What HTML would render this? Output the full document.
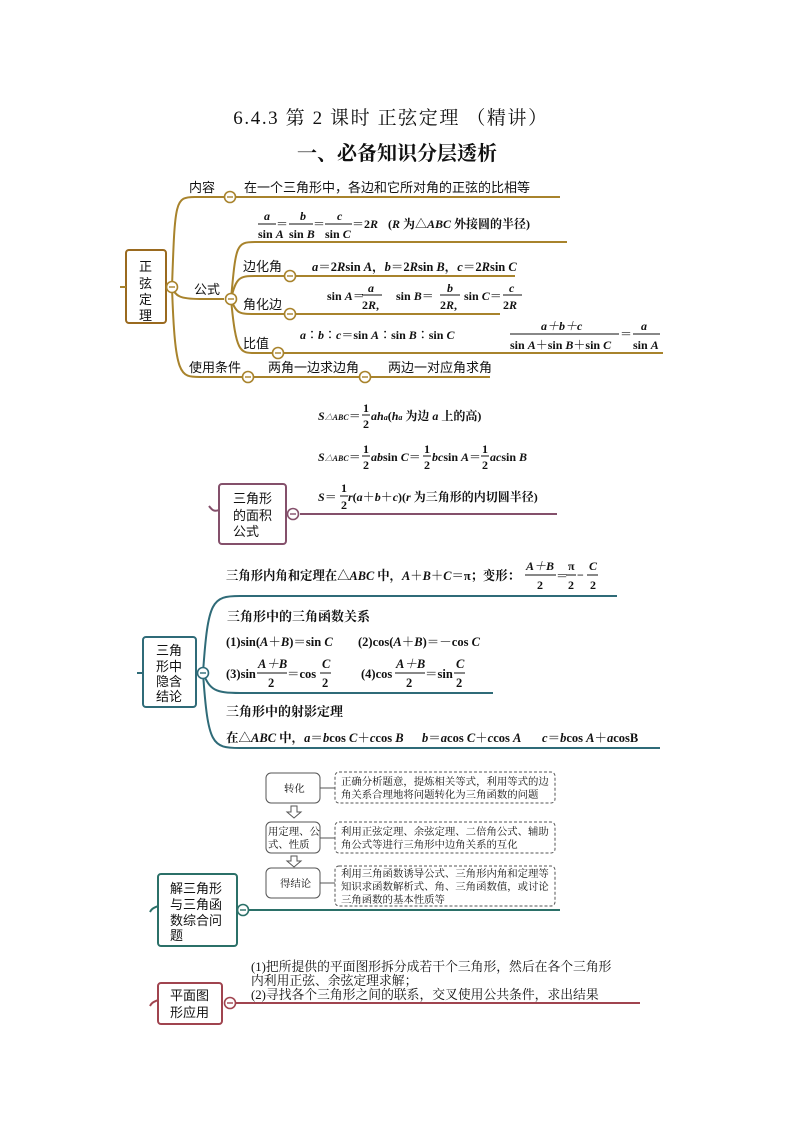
<!DOCTYPE html>
<html><head><meta charset="utf-8"><style>
html,body{margin:0;padding:0;background:#fff}
svg{display:block}
text{font-family:"Liberation Serif","Noto Serif CJK SC",serif;fill:#111}
.s{font-family:"Liberation Sans","Noto Sans CJK SC",sans-serif}
.i{font-style:italic}
</style></head><body>
<svg width="794" height="1123" viewBox="0 0 794 1123" xmlns="http://www.w3.org/2000/svg">
<text x="391" y="124" font-size="19" letter-spacing="1.6" text-anchor="middle">6.4.3 第 2 课时  正弦定理 （精讲）</text>
<text x="397" y="160" font-size="20" font-weight="bold" text-anchor="middle">一、必备知识分层透析</text>

<!-- Section 1 -->
<g stroke="#a8832c" stroke-width="2" fill="none">
<rect x="126" y="250" width="40" height="73" rx="3" stroke="#9a6a1f"/>
<path d="M172 287 C175 200,175 197,195 197 L560 197"/>
<path d="M172 287 C175 296,180 299,200 299 L224 299"/>
<path d="M172 287 C175 377,180 377,200 377 L490 377"/>
<path d="M231 299 C236 245,236 242,255 242 L567 242"/>
<path d="M231 299 C236 277,240 276,255 276 L515 276"/>
<path d="M231 299 C236 314,240 314,255 314 L500 314"/>
<path d="M231 299 C236 353,240 353,255 353 L663 353"/>
<path d="M120 287 L126 287"/>
</g>
<g stroke="#a8832c" stroke-width="1.6" fill="#fff">
<circle cx="172" cy="287" r="5.5"/><circle cx="230" cy="197" r="5.5"/><circle cx="231" cy="299" r="5.5"/>
<circle cx="290" cy="276" r="5.5"/><circle cx="290" cy="314" r="5.5"/><circle cx="278" cy="353" r="5.5"/>
<circle cx="248" cy="377" r="5.5"/><circle cx="365" cy="377" r="5.5"/>
</g>
<g stroke="#a8832c" stroke-width="1.4">
<line x1="169" y1="287" x2="175" y2="287"/><line x1="227" y1="197" x2="233" y2="197"/><line x1="228" y1="299" x2="234" y2="299"/>
<line x1="287" y1="276" x2="293" y2="276"/><line x1="287" y1="314" x2="293" y2="314"/><line x1="275" y1="353" x2="281" y2="353"/>
<line x1="245" y1="377" x2="251" y2="377"/><line x1="362" y1="377" x2="368" y2="377"/>
</g>
<g font-size="13">
<text x="139" y="271" class="s">正</text><text x="139" y="288" class="s">弦</text><text x="139" y="304" class="s">定</text><text x="139" y="320" class="s">理</text>
<text x="189" y="192" class="s">内容</text>
<text x="194" y="294" class="s">公式</text>
<text x="243" y="271" class="s">边化角</text>
<text x="243" y="309" class="s">角化边</text>
<text x="243" y="348" class="s">比值</text>
<text x="189" y="372" class="s">使用条件</text>
<text x="268" y="372" class="s">两角一边求边角</text>
<text x="388" y="372" class="s">两边一对应角求角</text>
<text x="244" y="192" class="s">在一个三角形中，各边和它所对角的正弦的比相等</text>
</g>
<g font-size="12" font-weight="bold">
<text x="264" y="220" class="i">a</text><line x1="258" y1="224" x2="276" y2="224" stroke="#111"/>
<text x="258" y="238">sin <tspan class="i">A</tspan></text>
<text x="276" y="228">＝</text>
<text x="300" y="220" class="i">b</text><line x1="289" y1="224" x2="313" y2="224" stroke="#111"/>
<text x="289" y="238">sin <tspan class="i">B</tspan></text>
<text x="313" y="228">＝</text>
<text x="337" y="220" class="i">c</text><line x1="325" y1="224" x2="352" y2="224" stroke="#111"/>
<text x="325" y="238">sin <tspan class="i">C</tspan></text>
<text x="352" y="228">＝2<tspan class="i">R</tspan></text>
<text x="388" y="228" font-size="12">(<tspan class="i">R</tspan> 为△<tspan class="i">ABC</tspan> 外接圆的半径)</text>
<text x="312" y="271" font-size="12.5"><tspan class="i">a</tspan>＝2<tspan class="i">R</tspan>sin <tspan class="i">A</tspan>，<tspan class="i">b</tspan>＝2<tspan class="i">R</tspan>sin <tspan class="i">B</tspan>，<tspan class="i">c</tspan>＝2<tspan class="i">R</tspan>sin <tspan class="i">C</tspan></text>
<text x="327" y="300">sin <tspan class="i">A</tspan>＝</text><text x="368" y="292" class="i">a</text>
<line x1="362" y1="295" x2="382" y2="295" stroke="#111"/><text x="362" y="309">2<tspan class="i">R</tspan>,</text>
<text x="396" y="300">sin <tspan class="i">B</tspan>＝</text><text x="447" y="292" class="i">b</text>
<line x1="440" y1="295" x2="460" y2="295" stroke="#111"/><text x="440" y="309">2<tspan class="i">R</tspan>,</text>
<text x="464" y="300">sin <tspan class="i">C</tspan>＝</text><text x="509" y="292" class="i">c</text>
<line x1="503" y1="295" x2="522" y2="295" stroke="#111"/><text x="503" y="309">2<tspan class="i">R</tspan></text>
<text x="300" y="339"><tspan class="i">a</tspan>∶<tspan class="i">b</tspan>∶<tspan class="i">c</tspan>＝sin <tspan class="i">A</tspan>∶sin <tspan class="i">B</tspan>∶sin <tspan class="i">C</tspan></text>
<text x="541" y="330" class="i">a＋b＋c</text>
<line x1="510" y1="334" x2="619" y2="334" stroke="#111"/>
<text x="510" y="349">sin <tspan class="i">A</tspan>＋sin <tspan class="i">B</tspan>＋sin <tspan class="i">C</tspan></text>
<text x="620" y="338">＝</text>
<text x="641" y="330" class="i">a</text><line x1="633" y1="334" x2="660" y2="334" stroke="#111"/>
<text x="633" y="349">sin <tspan class="i">A</tspan></text>
</g>

<!-- Section 2 -->
<g stroke="#84506b" stroke-width="2" fill="none">
<rect x="219" y="484" width="67" height="60" rx="3"/>
<path d="M300 514 L557 514"/>
<path d="M219 510 C214 512,212 510,209 506"/>
</g>
<circle cx="293" cy="514" r="5.5" fill="#fff" stroke="#84506b" stroke-width="1.6"/>
<line x1="290" y1="514" x2="296" y2="514" stroke="#84506b" stroke-width="1.4"/>
<g font-size="13"><text x="233" y="503" class="s">三角形</text><text x="233" y="520" class="s">的面积</text><text x="233" y="536" class="s">公式</text></g>
<g font-size="12" font-weight="bold">
<text x="318" y="420"><tspan class="i">S</tspan><tspan font-size="8" class="i">△ABC</tspan>＝</text>
<text x="363" y="412">1</text><line x1="362" y1="415" x2="370" y2="415" stroke="#111"/><text x="363" y="428">2</text>
<text x="371" y="420"><tspan class="i">ah</tspan><tspan font-size="8" class="i">a</tspan>(<tspan class="i">h</tspan><tspan font-size="8" class="i">a</tspan> 为边 <tspan class="i">a</tspan> 上的高)</text>
<text x="318" y="461"><tspan class="i">S</tspan><tspan font-size="8" class="i">△ABC</tspan>＝</text>
<text x="363" y="453">1</text><line x1="362" y1="456" x2="370" y2="456" stroke="#111"/><text x="363" y="469">2</text>
<text x="371" y="461"><tspan class="i">ab</tspan>sin <tspan class="i">C</tspan>＝</text>
<text x="424" y="453">1</text><line x1="423" y1="456" x2="431" y2="456" stroke="#111"/><text x="424" y="469">2</text>
<text x="432" y="461"><tspan class="i">bc</tspan>sin <tspan class="i">A</tspan>＝</text>
<text x="482" y="453">1</text><line x1="481" y1="456" x2="489" y2="456" stroke="#111"/><text x="482" y="469">2</text>
<text x="490" y="461"><tspan class="i">ac</tspan>sin <tspan class="i">B</tspan></text>
<text x="318" y="501"><tspan class="i">S</tspan>＝</text>
<text x="341" y="492">1</text><line x1="340" y1="496" x2="348" y2="496" stroke="#111"/><text x="341" y="509">2</text>
<text x="348" y="501"><tspan class="i">r</tspan>(<tspan class="i">a</tspan>＋<tspan class="i">b</tspan>＋<tspan class="i">c</tspan>)(<tspan class="i">r</tspan> 为三角形的内切圆半径)</text>
</g>

<!-- Section 3 -->
<g stroke="#2f6b78" stroke-width="2" fill="none">
<rect x="143" y="637" width="53" height="70" rx="3"/>
<path d="M203 673 C208 600,212 596,240 596 L617 596"/>
<path d="M203 673 C210 690,215 693,240 693 L493 693"/>
<path d="M203 673 C208 745,212 748,240 748 L660 748"/>
<path d="M137 673 L143 673"/>
</g>
<circle cx="203" cy="673" r="5.5" fill="#fff" stroke="#2f6b78" stroke-width="1.6"/>
<line x1="200" y1="673" x2="206" y2="673" stroke="#2f6b78" stroke-width="1.4"/>
<g font-size="13"><text x="156" y="655" class="s">三角</text><text x="156" y="671" class="s">形中</text><text x="156" y="686" class="s">隐含</text><text x="156" y="701" class="s">结论</text></g>
<g font-size="13" font-weight="bold">
<text x="226" y="580" textLength="294" lengthAdjust="spacingAndGlyphs">三角形内角和定理在△<tspan class="i">ABC</tspan> 中，<tspan class="i">A</tspan>＋<tspan class="i">B</tspan>＋<tspan class="i">C</tspan>＝π；变形：</text>
<text x="526" y="570" class="i" font-size="12">A＋B</text><line x1="525" y1="575" x2="556" y2="575" stroke="#111"/><text x="537" y="589" font-size="12">2</text>
<text x="556" y="580" font-size="12">＝</text>
<text x="568" y="570" font-size="12">π</text><line x1="566" y1="575" x2="576" y2="575" stroke="#111"/><text x="568" y="589" font-size="12">2</text>
<text x="577" y="579" font-size="12">−</text>
<text x="589" y="570" class="i" font-size="12">C</text><line x1="587" y1="575" x2="598" y2="575" stroke="#111"/><text x="590" y="589" font-size="12">2</text>
<text x="227" y="621">三角形中的三角函数关系</text>
<text x="226" y="646" font-size="12.5">(1)sin(<tspan class="i">A</tspan>＋<tspan class="i">B</tspan>)＝sin <tspan class="i">C</tspan></text>
<text x="358" y="646" font-size="12.5">(2)cos(<tspan class="i">A</tspan>＋<tspan class="i">B</tspan>)＝－cos <tspan class="i">C</tspan></text>
<g font-size="12.5">
<text x="226" y="678">(3)sin</text>
<text x="258" y="668" class="i">A＋B</text><line x1="257" y1="673" x2="287" y2="673" stroke="#111"/><text x="268" y="687">2</text>
<text x="287" y="678">＝cos</text>
<text x="322" y="668" class="i">C</text><line x1="320" y1="673" x2="331" y2="673" stroke="#111"/><text x="322" y="687">2</text>
<text x="361" y="678">(4)cos</text>
<text x="396" y="668" class="i">A＋B</text><line x1="395" y1="673" x2="425" y2="673" stroke="#111"/><text x="406" y="687">2</text>
<text x="425" y="678">＝sin</text>
<text x="456" y="668" class="i">C</text><line x1="454" y1="673" x2="465" y2="673" stroke="#111"/><text x="456" y="687">2</text>
</g>
<text x="226" y="716">三角形中的射影定理</text>
<g font-size="12.5">
<text x="226" y="742">在△<tspan class="i">ABC</tspan> 中，<tspan class="i">a</tspan>＝<tspan class="i">b</tspan>cos <tspan class="i">C</tspan>＋<tspan class="i">c</tspan>cos <tspan class="i">B</tspan></text>
<text x="422" y="742"><tspan class="i">b</tspan>＝<tspan class="i">a</tspan>cos <tspan class="i">C</tspan>＋<tspan class="i">c</tspan>cos <tspan class="i">A</tspan></text>
<text x="542" y="742"><tspan class="i">c</tspan>＝<tspan class="i">b</tspan>cos <tspan class="i">A</tspan>＋<tspan class="i">a</tspan>cosB</text>
</g>
</g>

<!-- Section 4 -->
<g stroke="#2b7068" stroke-width="2" fill="none">
<rect x="158" y="874" width="79" height="72" rx="3"/>
<path d="M249 910 L560 910"/>
<path d="M158 906 C154 908,152 908,150 912"/>
</g>
<circle cx="243" cy="910" r="5.5" fill="#fff" stroke="#2b7068" stroke-width="1.6"/>
<line x1="240" y1="910" x2="246" y2="910" stroke="#2b7068" stroke-width="1.4"/>
<g font-size="13"><text x="170" y="893" class="s">解三角形</text><text x="170" y="909" class="s">与三角函</text><text x="170" y="925" class="s">数综合问</text><text x="170" y="940" class="s">题</text></g>
<g stroke="#555" stroke-width="1" fill="#fff">
<rect x="266" y="773" width="54" height="30" rx="5"/>
<rect x="266" y="822" width="54" height="31" rx="5"/>
<rect x="266" y="868" width="54" height="30" rx="5"/>
<g stroke-dasharray="3,2"><rect x="335" y="772" width="220" height="31" rx="4"/><rect x="335" y="822" width="220" height="31" rx="4"/><rect x="335" y="866" width="220" height="40" rx="4"/></g>
<line x1="320" y1="788" x2="335" y2="788"/><line x1="320" y1="838" x2="335" y2="838"/><line x1="320" y1="883" x2="335" y2="883"/>
<path d="M291 806 h6 v6 h4 l-7 6 l-7 -6 h4 z"/>
<path d="M291 856 h6 v5 h4 l-7 6 l-7 -6 h4 z"/>
</g>
<g font-size="10.4">
<text x="284" y="792">转化</text>
<text x="268" y="835">用定理、公</text><text x="268" y="848">式、性质</text>
<text x="280" y="887">得结论</text>
<text x="341" y="785">正确分析题意，提炼相关等式，利用等式的边</text>
<text x="341" y="798">角关系合理地将问题转化为三角函数的问题</text>
<text x="341" y="835">利用正弦定理、余弦定理、二倍角公式、辅助</text>
<text x="341" y="848">角公式等进行三角形中边角关系的互化</text>
<text x="341" y="877">利用三角函数诱导公式、三角形内角和定理等</text>
<text x="341" y="890">知识求函数解析式、角、三角函数值，或讨论</text>
<text x="341" y="903">三角函数的基本性质等</text>
</g>

<!-- Section 5 -->
<g stroke="#a0444f" stroke-width="2" fill="none">
<rect x="158" y="983" width="64" height="41" rx="3"/>
<path d="M236 1003 L640 1003"/>
<path d="M158 1000 C154 1002,152 1002,150 1006"/>
</g>
<circle cx="230" cy="1003" r="5.5" fill="#fff" stroke="#a0444f" stroke-width="1.6"/>
<line x1="227" y1="1003" x2="233" y2="1003" stroke="#a0444f" stroke-width="1.4"/>
<g font-size="13"><text x="170" y="1000" class="s">平面图</text><text x="170" y="1017" class="s">形应用</text></g>
<g font-size="12.8">
<text x="251" y="971">(1)把所提供的平面图形拆分成若干个三角形，然后在各个三角形</text>
<text x="251" y="985">内利用正弦、余弦定理求解；</text>
<text x="251" y="999">(2)寻找各个三角形之间的联系，交叉使用公共条件，求出结果</text>
</g>
</svg>
</body></html>
